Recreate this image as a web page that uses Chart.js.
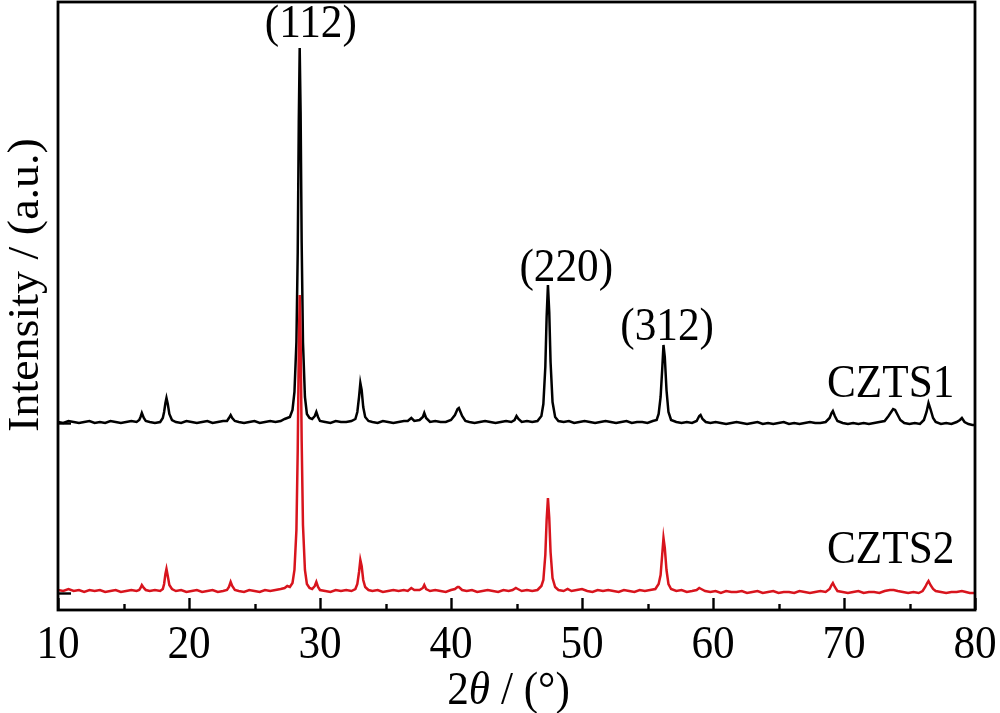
<!DOCTYPE html>
<html>
<head>
<meta charset="utf-8">
<script src="https://cdn.jsdelivr.net/npm/chart.js@4"></script>
<style>
  html, body { margin: 0; padding: 0; background: #fff; }
  #wrap { position: relative; width: 1000px; height: 713px; }
</style>
</head>
<body>
<div id="wrap"><canvas id="xrdChart"></canvas></div>
<script>
// 2theta range and tick marks
const xMin = 10;
const xMax = 80;
const xMajorTicks = [10, 20, 30, 40, 50, 60, 70, 80];
const xMinorTicks = [15, 25, 35, 45, 55, 65, 75];
const yTickMarks = [17, 187];

// CZTS1 is lifted above CZTS2 by this many counts
const czts1Offset = 168;

// [2theta, intensity]
const czts1 = [
  [10.0,20],[10.4,19],[10.8,21],[11.2,20],[11.6,19],[12.0,20],[12.4,21],[12.8,19],[13.2,20],[13.6,19],
  [14.0,21],[14.4,20],[14.8,19],[15.2,20],[15.6,21],[16.0,20],[16.2,22],
  [16.3,25],[16.4,29],[16.55,24],[16.7,21],
  [17.0,20],[17.4,19],[17.8,20],[18.0,24],
  [18.1,30],[18.2,39],[18.28,44],[18.38,38],[18.5,28],[18.7,22],
  [19.0,20],[19.4,19],[19.8,21],[20.2,20],[20.6,19],[21.0,20],[21.4,21],[21.8,19],[22.2,20],[22.6,21],[22.9,21],
  [23.05,24],[23.18,27],[23.3,24],[23.5,21],
  [23.8,20],[24.2,19],[24.6,20],[25.0,21],[25.4,19],[25.8,20],[26.2,21],[26.6,20],[27.0,21],
  [27.3,23],[27.5,24],[27.7,25],[27.9,32],
  [28.05,50],[28.2,100],[28.3,190],[28.38,320],[28.45,394],[28.52,330],[28.6,200],[28.7,100],[28.85,45],[29.0,28],[29.2,24],[29.4,23],
  [29.6,26],[29.72,30],[29.85,25],[30.0,21],
  [30.4,20],[30.8,19],[31.2,21],[31.6,20],[32.0,20],[32.4,21],[32.7,23],
  [32.85,30],[32.98,45],[33.08,59],[33.18,52],[33.3,35],[33.45,25],[33.7,21],
  [34.0,20],[34.4,19],[34.8,21],[35.2,20],[35.6,19],[36.0,20],[36.4,21],[36.7,21],
  [36.97,24],[37.2,21],[37.6,22],
  [37.85,25],[37.96,29],[38.1,24],[38.4,20],
  [38.8,21],[39.2,20],[39.6,20],[40.0,22],[40.3,27],
  [40.5,33],[40.6,34],[40.85,26],[41.1,21],
  [41.4,20],[41.8,19],[42.2,20],[42.6,21],[43.0,20],[43.4,19],[43.8,20],[44.2,21],[44.6,20],[44.85,22],
  [45.0,26],[45.15,23],[45.4,20],
  [45.8,21],[46.2,20],[46.6,21],[46.9,26],
  [47.05,38],[47.2,75],[47.3,125],[47.4,157],[47.5,130],[47.6,80],[47.75,40],[47.95,25],[48.2,21],
  [48.6,20],[49.0,21],[49.4,19],[49.8,20],[50.2,21],[50.6,20],[51.0,19],[51.4,20],[51.8,21],[52.2,20],
  [52.6,19],[53.0,20],[53.4,21],[53.8,19],[54.2,20],[54.6,20],[55.0,19],[55.4,21],[55.7,22],[55.85,28],
  [56.0,45],[56.12,72],[56.22,97],[56.32,85],[56.45,52],[56.6,30],[56.8,22],
  [57.2,20],[57.6,19],[58.0,20],[58.4,19],[58.75,21],
  [58.95,26],[59.05,27],[59.2,23],[59.45,20],
  [59.8,19],[60.2,20],[60.6,19],[61.0,18],[61.4,19],[61.8,20],[62.2,19],[62.6,18],[63.0,19],[63.4,20],
  [63.8,18],[64.2,19],[64.6,18],[65.0,19],[65.4,20],[65.8,18],[66.2,19],[66.6,18],[67.0,19],[67.4,20],
  [67.8,19],[68.2,19],[68.6,20],[68.9,24],
  [69.05,29],[69.15,31],[69.3,26],[69.5,21],
  [69.9,19],[70.3,18],[70.7,19],[71.1,18],[71.5,19],[71.9,18],[72.3,19],[72.7,20],[73.1,21],[73.4,26],
  [73.6,30],[73.75,33],[73.9,32],[74.1,27],[74.3,22],[74.6,19],
  [75.0,18],[75.4,19],[75.8,18],[76.1,22],[76.3,30],
  [76.45,39],[76.6,33],[76.8,24],[77.0,20],
  [77.4,18],[77.8,19],[78.2,18],[78.6,20],
  [78.85,22],[79.0,24],[79.2,20],[79.5,18],[79.8,17],[80.0,17]
];

const czts2 = [
  [10.0,20],[10.4,19],[10.8,21],[11.2,19],[11.6,20],[12.0,18],[12.4,20],[12.8,19],[13.2,20],[13.6,18],
  [14.0,19],[14.4,20],[14.8,18],[15.2,19],[15.6,20],[16.0,19],[16.2,20],
  [16.3,22],[16.4,25],[16.55,22],[16.7,20],
  [17.0,19],[17.4,20],[17.8,19],[18.0,21],
  [18.1,26],[18.2,36],[18.28,41],[18.38,34],[18.5,25],[18.7,21],
  [19.0,19],[19.4,20],[19.8,18],[20.2,19],[20.6,20],[21.0,18],[21.4,19],[21.8,20],[22.2,18],[22.6,19],[22.9,20],
  [23.05,23],[23.18,28],[23.3,24],[23.5,20],
  [23.8,19],[24.2,18],[24.6,20],[25.0,19],[25.4,18],[25.8,20],[26.2,19],[26.6,20],[27.0,21],
  [27.3,22],[27.5,24],[27.7,23],[27.9,27],
  [28.05,40],[28.2,80],[28.3,160],[28.38,260],[28.45,315],[28.52,270],[28.6,170],[28.7,85],[28.85,40],[29.0,26],[29.2,22],[29.4,21],
  [29.6,24],[29.72,28],[29.85,23],[30.0,20],
  [30.4,19],[30.8,18],[31.2,20],[31.6,19],[32.0,20],[32.4,19],[32.7,21],
  [32.85,26],[32.98,38],[33.08,50],[33.18,44],[33.3,30],[33.45,23],[33.7,20],
  [34.0,19],[34.4,20],[34.8,18],[35.2,19],[35.6,20],[36.0,19],[36.4,20],[36.7,19],
  [36.97,22],[37.2,20],[37.6,20],
  [37.85,22],[37.96,25],[38.1,21],[38.4,19],
  [38.8,20],[39.2,19],[39.6,18],[40.0,20],[40.3,21],
  [40.5,23],[40.6,23],[40.85,20],
  [41.2,19],[41.6,20],[42.0,18],[42.4,19],[42.8,20],[43.2,19],[43.6,18],[44.0,20],[44.4,19],[44.7,20],
  [44.95,22],[45.1,21],[45.4,19],
  [45.8,20],[46.2,19],[46.6,20],[46.9,24],
  [47.05,30],[47.2,55],[47.3,90],[47.4,112],[47.5,92],[47.6,58],[47.75,32],[47.95,23],[48.2,20],
  [48.6,19],[48.9,21],[49.2,19],[49.6,20],[50.0,21],[50.4,19],[50.8,18],[51.2,20],[51.6,19],[52.0,20],
  [52.4,19],[52.8,18],[53.2,20],[53.6,19],[54.0,18],[54.4,20],[54.8,19],[55.2,20],[55.6,21],[55.85,26],
  [56.0,35],[56.12,55],[56.22,72],[56.32,62],[56.45,40],[56.6,26],[56.8,21],
  [57.2,19],[57.6,20],[58.0,18],[58.4,19],[58.75,20],
  [58.95,22],[59.1,21],[59.4,19],
  [59.8,18],[60.2,19],[60.6,17],[61.0,19],[61.4,18],[61.8,18],[62.2,19],[62.6,17],[63.0,18],[63.4,19],
  [63.8,17],[64.2,18],[64.6,19],[65.0,17],[65.4,18],[65.8,18],[66.2,17],[66.6,19],[67.0,18],[67.4,17],
  [67.8,18],[68.2,19],[68.6,18],[68.9,21],
  [69.05,25],[69.15,27],[69.3,23],[69.5,19],
  [69.9,18],[70.3,17],[70.7,18],[71.1,19],[71.5,17],[71.9,18],[72.3,18],[72.7,17],[73.1,19],[73.5,20],
  [73.8,20],[74.1,19],[74.5,18],[74.9,17],[75.3,18],[75.7,17],[76.0,19],[76.2,23],
  [76.35,27],[76.45,29],[76.6,25],[76.8,21],[77.0,19],
  [77.4,18],[77.8,17],[78.2,18],[78.6,18],[79.0,19],[79.3,18],[79.6,17],[80.0,17]
];

// peak labels: text, 2theta, intensity where the label sits
const peakLabels = [
  ["(112)", 29.3, 585],
  ["(220)", 48.8, 341],
  ["(312)", 56.5, 282]
];
const sampleLabels = [
  ["CZTS1", 68.7, 213],
  ["CZTS2", 68.7, 47]
];

const xrdApp = (function () {
  const FONT = '"Liberation Serif", "Times New Roman", serif';
  const SIZE = 46;
  const SX = 0.94; // text in the figure is a little narrower than the font

  function wideText(ctx, text, x, y, align, baseline) {
    ctx.save();
    ctx.translate(x, y);
    ctx.scale(SX, 1);
    ctx.textAlign = align;
    ctx.textBaseline = baseline;
    ctx.fillText(text, 0, 0);
    ctx.restore();
  }

  const framePlugin = {
    id: "frame",
    afterDatasetsDraw(chart) {
      const { ctx, chartArea: a } = chart;
      const xs = chart.scales.x;
      const ys = chart.scales.y;
      ctx.save();
      ctx.strokeStyle = "#000";
      ctx.fillStyle = "#000";

      // inward ticks
      ctx.lineWidth = 2.4;
      xMajorTicks.concat(xMinorTicks).forEach(function (v) {
        const px = Math.round(xs.getPixelForValue(v)) + 0.5;
        const len = xMajorTicks.includes(v) ? 12 : 6;
        ctx.beginPath();
        ctx.moveTo(px, a.bottom);
        ctx.lineTo(px, a.bottom - len);
        ctx.stroke();
      });
      yTickMarks.forEach(function (v) {
        const py = Math.round(ys.getPixelForValue(v)) + 0.5;
        ctx.beginPath();
        ctx.moveTo(a.left, py);
        ctx.lineTo(a.left + 13, py);
        ctx.stroke();
      });

      // box
      ctx.lineWidth = 2.8;
      ctx.strokeRect(a.left, a.top, a.right - a.left, a.bottom - a.top);

      // tick labels
      ctx.font = SIZE + "px " + FONT;
      xMajorTicks.forEach(function (v) {
        wideText(ctx, String(v), xs.getPixelForValue(v), a.bottom + 36, "center", "middle");
      });

      // x title: 2θ / (°)
      const parts = [["2", ""], ["\u03b8", "italic "], [" / (\u00b0)", ""]];
      let total = 0;
      parts.forEach(function (p) {
        ctx.font = p[1] + SIZE + "px " + FONT;
        total += ctx.measureText(p[0]).width * SX;
      });
      let cx = (a.left + a.right) / 2 - total / 2 - 8;
      parts.forEach(function (p) {
        ctx.font = p[1] + SIZE + "px " + FONT;
        wideText(ctx, p[0], cx, a.bottom + 82, "left", "middle");
        cx += ctx.measureText(p[0]).width * SX;
      });

      // y title
      ctx.save();
      ctx.translate(27, (a.top + a.bottom) / 2 - 21);
      ctx.rotate(-Math.PI / 2);
      ctx.scale(1, SX);
      ctx.font = SIZE + "px " + FONT;
      ctx.textAlign = "center";
      ctx.textBaseline = "middle";
      ctx.fillText("Intensity / (a.u.)", 0, 0);
      ctx.restore();

      // peak and sample labels
      ctx.font = SIZE + "px " + FONT;
      peakLabels.forEach(function (l) {
        wideText(ctx, l[0], xs.getPixelForValue(l[1]), ys.getPixelForValue(l[2]), "center", "middle");
      });
      sampleLabels.forEach(function (l) {
        wideText(ctx, l[0], xs.getPixelForValue(l[1]), ys.getPixelForValue(l[2]), "left", "alphabetic");
      });
      ctx.restore();
    }
  };

  function initChart() {
    const ctx = document.getElementById("xrdChart");

    new Chart(ctx, {
      type: "line",
      data: {
        datasets: [
          {
            label: "CZTS2",
            data: czts2.map(function (p) { return { x: p[0], y: p[1] }; }),
            borderColor: "#d8141d",
            borderWidth: 2.5,
            pointRadius: 0,
            tension: 0,
            order: 0,
          },
          {
            label: "CZTS1",
            data: czts1.map(function (p) { return { x: p[0], y: p[1] + czts1Offset }; }),
            borderColor: "#000000",
            borderWidth: 2.5,
            pointRadius: 0,
            tension: 0,
            order: 1,
          },
        ],
      },
      options: {
        responsive: true,
        maintainAspectRatio: false,
        animation: false,
        layout: {
          padding: { left: 58, top: 2, right: 25, bottom: 103 },
        },
        plugins: {
          legend: { display: false },
          tooltip: { enabled: false },
        },
        scales: {
          x: { type: "linear", min: xMin, max: xMax, display: false },
          y: { type: "linear", min: 0, max: 608, display: false },
        },
      },
      plugins: [framePlugin],
    });
  }

  return {
    init: function () {
      initChart();
    },
  };
})();

document.addEventListener("DOMContentLoaded", function () {
  xrdApp.init();
});
</script>
</body>
</html>
